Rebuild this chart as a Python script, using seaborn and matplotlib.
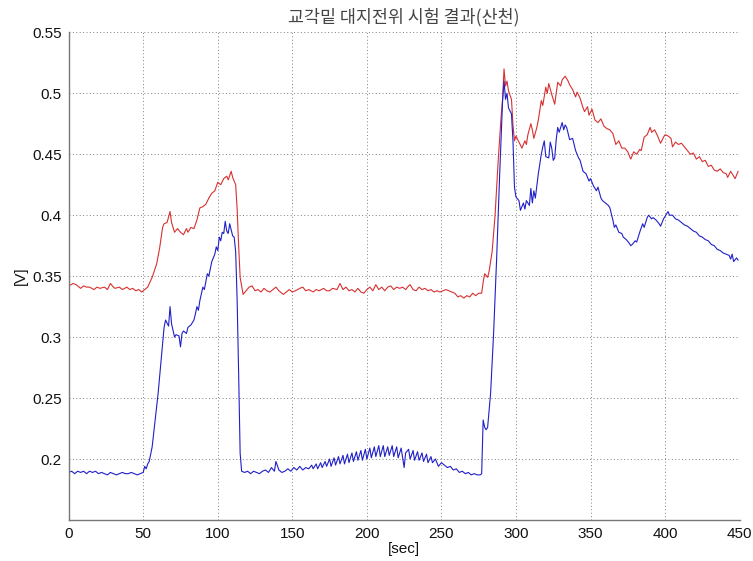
import numpy as np
import pandas as pd
import matplotlib
matplotlib.use("Agg")
import matplotlib.pyplot as plt
import seaborn as sns

# ---------------- data ----------------
red_t = [0, 3, 5, 8, 10, 12, 14, 17, 19, 21, 24, 26, 28, 30, 31, 34, 36, 39, 41, 43, 45, 47, 49, 51, 53,
         56, 59, 61, 63, 64, 66, 68, 69, 71, 73, 75, 77, 79, 80, 82, 84, 86, 88, 90, 92, 94, 96, 98, 100,
         102, 104, 106, 107, 109, 110, 112, 113, 114, 115, 117, 119, 121, 123, 125, 127, 129, 131, 133,
         135, 137, 139, 141, 144, 146, 148, 150, 152, 155, 157, 159, 161, 164, 166, 168, 171, 173, 175,
         177, 180, 182, 184, 186, 188, 190, 192, 194, 196, 198, 200, 202, 204, 206, 208, 210, 212, 214,
         216, 218, 220, 222, 224, 226, 228, 229, 231, 233, 235, 237, 239, 241, 243, 245, 247, 249, 251,
         253, 255, 257, 259, 261, 263, 265, 267, 269, 271, 273, 275, 277, 278, 279, 281, 282, 284, 286,
         288, 290, 291, 292, 293, 294, 295, 297, 298, 299, 300, 302, 304, 306, 307, 308, 310, 311, 312,
         314, 315, 317, 318, 320, 321, 322, 324, 326, 327, 328, 330, 331, 333, 335, 336, 338, 340, 341,
         343, 345, 346, 348, 349, 351, 353, 355, 357, 359, 361, 363, 365, 367, 369, 371, 373, 375, 377,
         379, 381, 383, 384, 386, 388, 390, 391, 393, 395, 397, 399, 400, 402, 404, 405, 407, 409, 411,
         413, 415, 417, 419, 421, 423, 425, 427, 429, 431, 433, 435, 437, 439, 441, 442, 444, 446, 447, 449]
red_v = [0.342, 0.344, 0.343, 0.340, 0.342, 0.341, 0.341, 0.339, 0.341, 0.340, 0.341, 0.339, 0.344, 0.341,
         0.340, 0.341, 0.339, 0.341, 0.339, 0.340, 0.338, 0.339, 0.337, 0.339, 0.341,
         0.349, 0.360, 0.373, 0.390, 0.393, 0.394, 0.403, 0.394, 0.386, 0.389, 0.386, 0.384, 0.389, 0.386,
         0.390, 0.389, 0.396, 0.406, 0.407, 0.409, 0.414, 0.418, 0.420, 0.427,
         0.425, 0.430, 0.432, 0.429, 0.436, 0.431, 0.425, 0.405, 0.375, 0.349, 0.335, 0.338, 0.341, 0.342,
         0.338, 0.339, 0.337, 0.340, 0.338,
         0.337, 0.339, 0.341, 0.338, 0.335, 0.337, 0.339, 0.337, 0.338, 0.340, 0.341, 0.338, 0.339, 0.337,
         0.339, 0.338, 0.340, 0.338, 0.338,
         0.340, 0.339, 0.344, 0.339, 0.341, 0.338, 0.339, 0.337, 0.340, 0.337, 0.336, 0.339, 0.341, 0.338,
         0.343, 0.339, 0.341, 0.338, 0.341,
         0.342, 0.339, 0.341, 0.340, 0.341, 0.339, 0.342, 0.343, 0.339, 0.338, 0.341, 0.339, 0.340, 0.338,
         0.339, 0.337, 0.338, 0.337, 0.338,
         0.339, 0.338, 0.337, 0.336, 0.333, 0.334, 0.332, 0.334, 0.333, 0.336, 0.334, 0.336, 0.336, 0.345,
         0.352, 0.349, 0.354, 0.370, 0.400,
         0.443, 0.480, 0.495, 0.520, 0.506, 0.510, 0.502, 0.495, 0.474, 0.461, 0.465, 0.460, 0.455, 0.461,
         0.458, 0.466, 0.475, 0.470, 0.463,
         0.472, 0.478, 0.494, 0.490, 0.505, 0.500, 0.508, 0.499, 0.491, 0.500, 0.509, 0.506, 0.511, 0.514,
         0.510, 0.507, 0.503, 0.497, 0.501,
         0.496, 0.488, 0.485, 0.489, 0.482, 0.487, 0.478, 0.476, 0.479, 0.473, 0.471, 0.470, 0.467, 0.458,
         0.461, 0.455, 0.455, 0.452, 0.446,
         0.452, 0.450, 0.454, 0.453, 0.464, 0.466, 0.472, 0.468, 0.470, 0.465, 0.459, 0.464, 0.466, 0.465,
         0.463, 0.456, 0.460, 0.458, 0.459,
         0.456, 0.453, 0.450, 0.451, 0.446, 0.448, 0.444, 0.445, 0.440, 0.441, 0.437, 0.436, 0.438, 0.435,
         0.434, 0.431, 0.436, 0.432, 0.430, 0.436]

blue_t = [0, 2, 4, 6, 8, 10, 12, 14, 16, 18, 20, 22, 24, 26, 28, 30, 32, 34, 36, 38, 40, 42, 44, 46, 48, 50,
          51, 52, 53, 54, 56, 58, 60, 62, 64, 65, 67, 68, 69, 71, 72, 74, 75, 76, 77, 79, 80, 82, 84, 85,
          86, 87, 88, 90, 91, 93, 94, 96, 97, 98, 99, 100, 101, 102, 103, 104, 105, 106, 107, 108, 109,
          110, 111, 112, 113, 114, 115, 116, 118, 120, 122, 124, 126, 128, 130, 132, 134, 136, 138, 139,
          141, 143, 145, 147, 149, 151, 153, 155, 157, 159, 161, 163, 164, 166, 167, 169, 170, 172, 173,
          175, 176, 178, 179, 181, 182, 184, 185, 187, 188, 190, 191, 193, 194, 196, 197, 199, 200, 202,
          203, 205, 206, 208, 209, 211, 212, 214, 215, 217, 218, 220, 221, 223, 225, 226, 228, 229, 231,
          232, 234, 235, 237, 238, 240, 241, 243, 244, 246, 248, 250, 252, 254, 256, 258, 260, 262, 264,
          266, 268, 270, 272, 274, 276, 277, 278, 279, 280, 281, 283, 285, 287, 289, 291, 292, 293, 294,
          295, 297, 298, 299, 300, 302, 303, 305, 306, 307, 309, 310, 311, 312, 313, 315, 317, 318, 319,
          320, 322, 323, 324, 325, 326, 327, 328, 329, 331, 332, 333, 334, 336, 338, 340, 342, 343, 345,
          347, 349, 350, 352, 354, 355, 357, 358, 360, 362, 363, 365, 366, 367, 369, 371, 372, 374, 376,
          377, 378, 380, 381, 383, 385, 386, 388, 389, 391, 392, 394, 396, 397, 399, 400, 402, 403, 405,
          407, 409, 411, 413, 415, 417, 419, 421, 423, 425, 427, 429, 431, 433, 435, 437, 439, 441, 443,
          444, 445, 446, 448, 449]
blue_v = [0.189, 0.190, 0.188, 0.190, 0.189, 0.190, 0.188, 0.190, 0.189, 0.190, 0.188, 0.189, 0.188, 0.187,
          0.189, 0.188, 0.187, 0.188, 0.189, 0.188, 0.188, 0.189, 0.188, 0.187, 0.188, 0.189,
          0.194, 0.192, 0.196, 0.198, 0.210, 0.232, 0.254, 0.281, 0.308, 0.314, 0.309, 0.325, 0.311, 0.300,
          0.302, 0.301, 0.292, 0.303, 0.305, 0.303, 0.308, 0.310, 0.314, 0.319,
          0.325, 0.322, 0.330, 0.341, 0.339, 0.352, 0.350, 0.362, 0.365, 0.368, 0.374, 0.371, 0.382, 0.379,
          0.386, 0.385, 0.395, 0.387, 0.385, 0.393, 0.388,
          0.383, 0.382, 0.370, 0.330, 0.270, 0.205, 0.190, 0.189, 0.190, 0.188, 0.190, 0.189, 0.188, 0.190,
          0.191, 0.189, 0.193, 0.190, 0.198,
          0.191, 0.189, 0.190, 0.192, 0.190, 0.193, 0.191, 0.194, 0.191, 0.193, 0.192, 0.195, 0.192, 0.196,
          0.192, 0.197, 0.193, 0.198, 0.194,
          0.200, 0.194, 0.201, 0.195, 0.202, 0.196, 0.203, 0.196, 0.204, 0.197, 0.205, 0.198, 0.206, 0.199,
          0.207, 0.199, 0.208, 0.200, 0.209,
          0.201, 0.210, 0.202, 0.211, 0.202, 0.211, 0.202, 0.210, 0.203, 0.211, 0.202, 0.210, 0.201, 0.209,
          0.193, 0.205, 0.208, 0.200, 0.207,
          0.199, 0.206, 0.199, 0.205, 0.198, 0.204, 0.197, 0.202, 0.197, 0.200, 0.194, 0.197, 0.195, 0.193,
          0.194, 0.191, 0.192, 0.189, 0.190,
          0.188, 0.189, 0.187, 0.188, 0.187, 0.187, 0.188, 0.232, 0.226, 0.224, 0.226, 0.254, 0.303, 0.363,
          0.431, 0.493, 0.510, 0.495, 0.500,
          0.488, 0.483, 0.461, 0.423, 0.415, 0.412, 0.404, 0.410, 0.405, 0.412, 0.408, 0.422, 0.410, 0.420,
          0.414, 0.434, 0.450, 0.456, 0.461,
          0.448, 0.447, 0.460, 0.455, 0.445, 0.447, 0.462, 0.472, 0.468, 0.476, 0.470, 0.474, 0.472, 0.462,
          0.463, 0.453, 0.447, 0.445, 0.436,
          0.434, 0.428, 0.430, 0.424, 0.420, 0.423, 0.414, 0.412, 0.410, 0.408, 0.406, 0.396, 0.390, 0.392,
          0.386, 0.385, 0.382, 0.380, 0.377,
          0.375, 0.376, 0.379, 0.378, 0.386, 0.393, 0.390, 0.398, 0.400, 0.397, 0.398, 0.396, 0.393, 0.391,
          0.397, 0.399, 0.403, 0.400, 0.400,
          0.397, 0.396, 0.394, 0.392, 0.391, 0.389, 0.387, 0.386, 0.383, 0.382, 0.380, 0.379, 0.376, 0.375,
          0.372, 0.371, 0.369, 0.368, 0.367,
          0.364, 0.368, 0.362, 0.365, 0.363]

x_ticks = [0, 50, 100, 150, 200, 250, 300, 350, 400, 450]
y_ticks = [0.2, 0.25, 0.3, 0.35, 0.4, 0.45, 0.5, 0.55]
y_tick_labels = ["0.2", "0.25", "0.3", "0.35", "0.4", "0.45", "0.5", "0.55"]

title = "교각밑 대지전위 시험 결과(산천)"
x_label = "[sec]"
y_label = "[V]"

# ---------------- plotting ----------------
sns.set_style("white")
plt.rcParams['font.family'] = ['Liberation Sans', 'DejaVu Sans']

red_df = pd.DataFrame({"t": red_t, "v": red_v})
blue_df = pd.DataFrame({"t": blue_t, "v": blue_v})

fig = plt.figure(figsize=(7.53, 5.61), dpi=100)
ax = fig.add_axes([0.0912, 0.0731, 0.891, 0.8693])

sns.lineplot(data=red_df, x="t", y="v", ax=ax, color="#d83030", linewidth=0.8,
             estimator=None, sort=False)
sns.lineplot(data=blue_df, x="t", y="v", ax=ax, color="#2020c8", linewidth=0.8,
             estimator=None, sort=False)

ax.set_xlim(0, 450)
ax.set_ylim(0.15, 0.55)
ax.set_xticks(x_ticks)
ax.set_xticklabels([str(v) for v in x_ticks])
ax.set_yticks(y_ticks)
ax.set_yticklabels(y_tick_labels)

ax.grid(True, linestyle=(0, (1, 2.5)), color="#808080", linewidth=0.7)
ax.tick_params(axis="both", direction="in", length=4, width=0.8, colors="#333333",
               labelsize=11, labelcolor="#111111")
ax.tick_params(axis="x", pad=5)
ax.tick_params(axis="y", pad=5)
for s in ["top", "right"]:
    ax.spines[s].set_visible(False)
for s in ["left", "bottom"]:
    ax.spines[s].set_color("#777777")
    ax.spines[s].set_linewidth(1.0)

ax.set_xlabel(x_label, fontsize=11, color="#111111", labelpad=1)
ax.set_ylabel(y_label, fontsize=11, color="#111111", labelpad=3)
ax.set_title(title, fontsize=12.5, color="#444444", pad=7,
             family=["Noto Sans CJK KR", "DejaVu Sans"])

fig.savefig("out.png", dpi=100)
